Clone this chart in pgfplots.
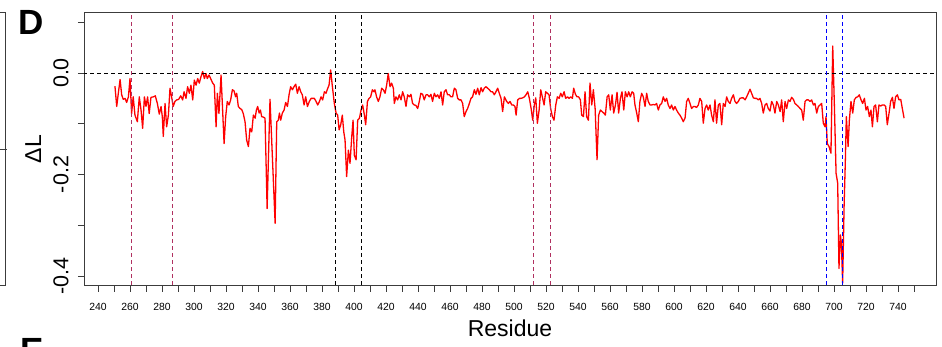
\documentclass[border=0pt]{standalone}
\usepackage{pgfplots}
\pgfplotsset{compat=1.18}
\usepackage{pgfplotstable}
\usepackage{fontspec}
\setmainfont{Liberation Sans}

\definecolor{rmaroon}{RGB}{176,48,96}
\definecolor{rblue}{RGB}{0,0,255}
\definecolor{boxgray}{RGB}{60,60,60}

% Change in L per residue
\pgfplotstableread{
res dL
250.6 -0.026
251.7 -0.066
252.7 -0.040
253.8 -0.013
254.8 -0.043
255.8 -0.052
256.9 -0.050
257.9 -0.058
259.0 -0.047
260.0 -0.011
261.0 -0.080
262.0 -0.047
263.1 -0.083
264.6 -0.096
265.8 -0.047
266.9 -0.073
267.9 -0.109
269.0 -0.047
270.0 -0.066
271.0 -0.047
272.0 -0.080
273.1 -0.048
274.6 -0.047
275.8 -0.045
277.1 -0.060
278.3 -0.081
279.4 -0.066
280.2 -0.086
280.8 -0.125
281.9 -0.060
282.9 -0.106
284.0 -0.083
285.0 -0.030
286.0 -0.047
287.0 -0.066
288.1 -0.056
289.2 -0.053
290.4 -0.052
291.7 -0.045
292.9 -0.053
293.8 -0.037
295.0 -0.050
296.0 -0.027
297.1 -0.040
298.1 -0.024
299.2 -0.053
300.2 -0.014
301.3 -0.024
302.3 -0.011
303.3 -0.020
304.4 -0.007
305.4 0.003
306.5 -0.011
307.5 -0.001
308.3 -0.011
309.4 -0.004
310.4 -0.011
311.7 -0.020
312.7 -0.024
313.8 -0.106
314.6 -0.040
315.6 -0.080
316.9 -0.004
317.7 -0.060
318.8 -0.139
319.8 -0.086
320.8 -0.056
321.9 -0.063
322.9 -0.053
324.0 -0.033
325.0 -0.035
326.0 -0.047
326.7 -0.040
327.7 -0.066
328.8 -0.070
329.8 -0.072
330.8 -0.080
331.9 -0.096
332.9 -0.132
334.0 -0.145
335.0 -0.109
336.1 -0.116
337.1 -0.083
338.2 -0.089
339.0 -0.073
339.8 -0.066
340.7 -0.079
341.5 -0.073
342.3 -0.086
343.4 -0.087
344.4 -0.089
345.7 -0.267
347.5 -0.052
350.7 -0.296
351.7 -0.096
352.7 -0.093
353.4 -0.079
354.2 -0.093
355.2 -0.079
356.3 -0.073
357.3 -0.058
358.4 -0.066
359.4 -0.043
360.4 -0.027
361.5 -0.033
362.5 -0.027
363.6 -0.022
364.6 -0.040
365.7 -0.027
366.7 -0.037
367.7 -0.043
368.8 -0.063
369.8 -0.047
370.9 -0.066
372.1 -0.056
373.2 -0.050
374.2 -0.050
375.2 -0.050
376.3 -0.056
377.3 -0.063
378.4 -0.056
379.4 -0.047
380.4 -0.053
381.5 -0.037
382.5 -0.040
383.6 -0.030
384.4 -0.024
385.4 0.006
386.5 -0.027
387.7 -0.060
388.8 -0.079
389.8 -0.083
390.7 -0.112
391.7 -0.102
392.7 -0.083
393.6 -0.116
394.4 -0.132
395.4 -0.204
396.5 -0.152
397.5 -0.178
398.6 -0.125
399.4 -0.093
400.2 -0.162
401.3 -0.171
402.3 -0.093
403.4 -0.089
404.4 -0.073
405.4 -0.063
406.5 -0.083
407.3 -0.102
408.4 -0.056
409.4 -0.050
410.4 -0.047
411.5 -0.033
412.5 -0.037
413.1 -0.033
414.1 -0.047
415.2 -0.056
416.2 -0.047
417.3 -0.030
418.3 -0.033
419.4 -0.040
420.4 -0.024
421.4 -0.001
422.5 -0.027
423.5 -0.020
424.6 -0.030
425.2 -0.060
426.2 -0.047
427.3 -0.053
428.3 -0.043
429.4 -0.053
430.4 -0.037
431.4 -0.047
432.5 -0.066
433.5 -0.043
434.6 -0.047
435.6 -0.042
436.6 -0.060
437.7 -0.063
438.7 -0.064
439.8 -0.070
440.8 -0.056
441.8 -0.040
442.9 -0.042
443.9 -0.053
445.0 -0.043
446.0 -0.043
447.1 -0.047
448.1 -0.042
449.1 -0.056
450.2 -0.040
451.2 -0.047
452.3 -0.043
453.3 -0.050
454.4 -0.037
455.4 -0.063
456.4 -0.037
457.5 -0.033
458.5 -0.043
459.6 -0.043
460.6 -0.047
461.6 -0.047
462.7 -0.030
463.7 -0.033
464.8 -0.050
465.8 -0.053
466.9 -0.053
467.9 -0.060
468.9 -0.086
470.0 -0.076
471.0 -0.070
472.1 -0.060
473.1 -0.050
474.1 -0.047
475.2 -0.033
476.2 -0.042
477.3 -0.030
478.3 -0.043
479.4 -0.029
480.4 -0.037
481.4 -0.030
482.5 -0.027
483.5 -0.030
484.6 -0.033
485.6 -0.037
486.6 -0.037
487.7 -0.043
488.7 -0.037
489.8 -0.030
490.8 -0.040
491.9 -0.050
492.9 -0.076
494.0 -0.047
495.4 -0.056
496.5 -0.060
497.5 -0.056
498.6 -0.063
499.6 -0.063
500.6 -0.066
501.3 -0.083
502.3 -0.053
503.4 -0.050
504.4 -0.050
505.4 -0.049
506.5 -0.047
507.5 -0.043
508.6 -0.037
509.6 -0.050
510.7 -0.070
511.7 -0.093
512.7 -0.063
513.6 -0.049
514.6 -0.099
515.7 -0.073
516.7 -0.033
517.7 -0.047
518.8 -0.063
519.8 -0.037
520.9 -0.040
521.9 -0.043
522.9 -0.070
524.0 -0.086
525.0 -0.093
526.1 -0.063
527.1 -0.047
528.2 -0.050
529.2 -0.040
530.2 -0.047
531.3 -0.037
532.3 -0.050
533.4 -0.047
534.4 -0.050
535.4 -0.047
536.5 -0.050
537.3 -0.030
538.4 -0.042
539.4 -0.047
540.4 -0.047
541.5 -0.053
542.3 -0.083
543.4 -0.086
544.4 -0.037
545.4 -0.086
546.5 -0.093
547.5 -0.020
548.6 -0.063
549.6 -0.033
550.7 -0.070
551.9 -0.171
552.9 -0.083
554.0 -0.073
555.0 -0.076
556.1 -0.079
557.1 -0.083
558.2 -0.047
559.2 -0.043
560.2 -0.073
561.3 -0.043
562.3 -0.079
563.4 -0.063
564.4 -0.038
565.4 -0.079
566.5 -0.050
567.5 -0.037
568.6 -0.073
569.6 -0.037
570.7 -0.047
571.7 -0.037
572.7 -0.047
573.8 -0.037
574.8 -0.040
575.6 -0.063
576.7 -0.079
577.7 -0.096
578.7 -0.056
579.8 -0.040
580.8 -0.047
581.9 -0.066
582.9 -0.040
583.9 -0.056
585.0 -0.063
586.0 -0.063
587.1 -0.062
588.1 -0.063
589.1 -0.060
590.2 -0.073
591.2 -0.063
592.3 -0.060
593.3 -0.047
594.4 -0.056
595.4 -0.050
596.4 -0.063
597.5 -0.070
598.5 -0.063
599.6 -0.073
600.6 -0.066
601.6 -0.073
602.7 -0.079
603.7 -0.083
604.8 -0.089
605.8 -0.096
606.9 -0.089
607.9 -0.056
608.9 -0.050
610.0 -0.060
611.0 -0.070
612.1 -0.066
613.1 -0.066
614.1 -0.068
615.2 -0.063
616.2 -0.050
617.3 -0.056
618.3 -0.099
619.4 -0.070
620.4 -0.063
621.4 -0.073
622.5 -0.063
623.5 -0.083
624.6 -0.096
625.6 -0.053
626.6 -0.099
627.7 -0.063
628.7 -0.060
629.8 -0.102
630.8 -0.060
631.9 -0.066
632.9 -0.047
633.9 -0.056
635.0 -0.060
636.0 -0.050
637.1 -0.043
638.1 -0.056
639.1 -0.060
640.2 -0.056
641.2 -0.050
642.3 -0.049
643.3 -0.049
644.4 -0.053
645.4 -0.047
646.4 -0.040
647.5 -0.032
648.5 -0.040
649.6 -0.049
650.6 -0.050
651.6 -0.050
652.7 -0.053
653.7 -0.050
654.8 -0.060
655.8 -0.079
656.9 -0.063
657.9 -0.060
658.9 -0.070
660.0 -0.075
661.0 -0.056
662.1 -0.063
663.1 -0.079
664.2 -0.056
665.2 -0.063
666.3 -0.076
667.3 -0.053
668.3 -0.096
669.4 -0.056
670.4 -0.070
671.5 -0.053
672.5 -0.056
673.5 -0.048
674.6 -0.052
675.6 -0.060
676.7 -0.063
677.7 -0.066
678.8 -0.070
679.8 -0.073
680.8 -0.093
681.9 -0.056
682.9 -0.053
684.0 -0.053
685.0 -0.056
686.0 -0.053
687.1 -0.063
688.1 -0.060
689.2 -0.079
690.2 -0.066
691.3 -0.063
692.3 -0.060
693.3 -0.099
694.4 -0.106
695.0 -0.086
695.8 -0.139
696.9 -0.145
698.1 -0.158
699.2 0.053
700.2 -0.060
701.3 -0.198
702.3 -0.217
703.1 -0.385
704.0 -0.319
704.6 -0.335
705.4 -0.414
706.3 -0.263
707.1 -0.171
707.7 -0.086
708.8 -0.145
709.6 -0.093
710.6 -0.056
711.7 -0.079
712.7 -0.053
713.8 -0.048
714.8 -0.047
715.8 -0.043
716.9 -0.053
717.9 -0.060
719.0 -0.050
720.0 -0.073
721.0 -0.066
722.1 -0.086
723.1 -0.073
724.0 -0.106
725.0 -0.066
726.0 -0.063
727.1 -0.096
728.1 -0.063
729.2 -0.065
730.2 -0.063
731.3 -0.063
732.3 -0.066
733.3 -0.102
734.4 -0.079
735.4 -0.056
736.5 -0.048
737.5 -0.070
738.5 -0.047
739.6 -0.043
740.6 -0.053
741.7 -0.052
742.7 -0.070
743.8 -0.089
}\deltaL

\begin{document}
\begin{tikzpicture}
\useasboundingbox (0pt,0pt) rectangle (942pt,346pt);

% panel letters
\node[anchor=base west, inner sep=0pt, font=\fontsize{35}{35}\selectfont\bfseries] at (18.5pt,311pt) {D};
\begin{scope}
  \clip (0pt,0pt) rectangle (942pt,346pt);
  \node[anchor=base west, inner sep=0pt, font=\fontsize{35}{35}\selectfont\bfseries] at (20.5pt,-16pt) {E};
\end{scope}

% frame edge of the neighbouring panel
\draw[boxgray, line width=0.9pt] (0pt,333.3pt) -- (5pt,333.3pt) -- (5pt,60.3pt) -- (0pt,60.3pt);
\draw[boxgray, line width=0.9pt] (0pt,197pt) -- (7pt,197pt);

\begin{axis}[
  at={(84pt,60.3pt)}, anchor=south west,
  scale only axis, width=852pt, height=273pt,
  xmin=231.25, xmax=763.75, ymin=-0.4191, ymax=0.1188,
  axis line style={boxgray, line width=0.9pt},
  xtick={240,260,...,740}, minor xtick={250,270,...,750},
  ytick={-0.4,-0.2,0}, yticklabels={-0.4,-0.2,0.0},
  minor ytick={-0.3,-0.1,0.1},
  xtick pos=bottom, ytick pos=left,
  tick align=outside, major tick length=6pt, minor tick length=6pt,
  every tick/.style={boxgray, line width=0.8pt},
  minor tick style={boxgray, line width=0.8pt},
  /pgf/number format/assume math mode=true,
  xticklabel style={font=\fontsize{10.4}{12}\selectfont, anchor=north},
  xticklabel shift=8pt,
  yticklabel style={font=\fontsize{21.5}{24}\selectfont, rotate=90, anchor=south},
  yticklabel shift=6pt,
  xlabel={Residue},
  ylabel={ΔL},
  xlabel style={at={(axis description cs:0.5,-0.155)}, anchor=center, font=\fontsize{23}{26}\selectfont},
  ylabel style={at={(axis description cs:-0.0595,0.5)}, anchor=center, font=\fontsize{23}{26}\selectfont},
]
\addplot[red, line width=1.3pt, line join=round, no markers] table[x=res, y=dL] {\deltaL};

% reference lines
\addplot[black, line width=0.9pt, dash pattern=on 4pt off 3pt] coordinates {(200,0) (800,0)};
\addplot[rmaroon, line width=0.9pt, dash pattern=on 4pt off 3pt] coordinates {(261,-0.5) (261,0.2)};
\addplot[rmaroon, line width=0.9pt, dash pattern=on 4pt off 3pt] coordinates {(286.7,-0.5) (286.7,0.2)};
\addplot[black, line width=0.9pt, dash pattern=on 4pt off 3pt] coordinates {(388.5,-0.5) (388.5,0.2)};
\addplot[black, line width=0.9pt, dash pattern=on 4pt off 3pt] coordinates {(404.4,-0.5) (404.4,0.2)};
\addplot[rmaroon, line width=0.9pt, dash pattern=on 4pt off 3pt] coordinates {(512,-0.5) (512,0.2)};
\addplot[rmaroon, line width=0.9pt, dash pattern=on 4pt off 3pt] coordinates {(522.9,-0.5) (522.9,0.2)};
\addplot[rblue, line width=0.9pt, dash pattern=on 4pt off 3pt] coordinates {(695.4,-0.5) (695.4,0.2)};
\addplot[rblue, line width=0.9pt, dash pattern=on 4pt off 3pt] coordinates {(705.2,-0.5) (705.2,0.2)};
\end{axis}
\end{tikzpicture}
\end{document}
